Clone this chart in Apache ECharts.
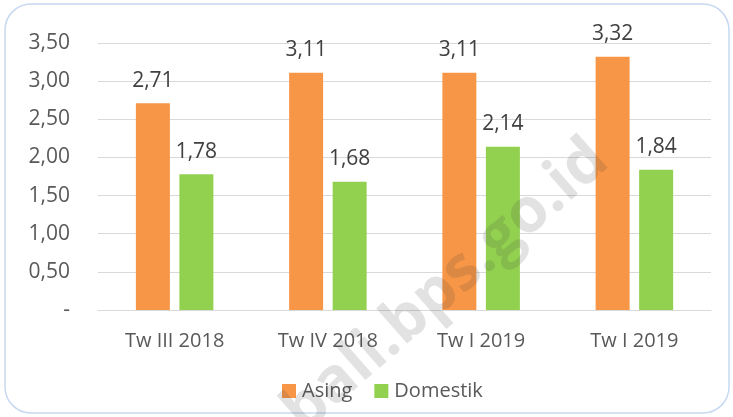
<!DOCTYPE html>
<html>
<head>
<meta charset="utf-8">
<script src="https://cdn.jsdelivr.net/npm/echarts@6/dist/echarts.min.js"></script>
<style>
  html, body { margin: 0; padding: 0; background: #fff; }
  #chart { width: 733px; height: 417px; }
</style>
</head>
<body>
<div id="chart"></div>
<script>
// quarters (last label repeats as in the source)
const categories = ['Tw III 2018', 'Tw IV 2018', 'Tw I 2019', 'Tw I 2019']
const asing = [2.71, 3.11, 3.11, 3.32]
const domestik = [1.78, 1.68, 2.14, 1.84]
const yTicks = [0, 0.5, 1, 1.5, 2, 2.5, 3, 3.5]

const fmt = v => (v === 0 ? '-' : v.toFixed(2).replace('.', ','))
const font = '"Open Sans", "Liberation Sans", sans-serif'

const chart = echarts.init(document.getElementById('chart'))

const barLabel = {
  show: true,
  position: 'top',
  distance: 12,
  fontSize: 21,
  color: '#404040',
  formatter: p => fmt(p.value)
}

chart.setOption({
  animation: false,
  textStyle: { fontFamily: font },
  grid: { left: 98, right: 22, top: 43, bottom: 107 },
  legend: {
    top: 376,
    left: 277,
    itemWidth: 14,
    itemHeight: 14,
    itemGap: 22,
    icon: 'rect',
    textStyle: { fontSize: 20, color: '#595959', fontFamily: font, padding: [0, 0, 0, 1] }
  },
  xAxis: {
    type: 'category',
    data: categories,
    axisTick: { show: false },
    axisLine: { lineStyle: { color: '#d9d9d9' } },
    axisLabel: { fontSize: 20, color: '#595959', margin: 21 }
  },
  yAxis: {
    type: 'value',
    min: yTicks[0],
    max: yTicks[yTicks.length - 1],
    interval: 0.5,
    axisLine: { show: false },
    axisTick: { show: false },
    splitLine: { lineStyle: { color: '#d9d9d9' } },
    axisLabel: { fontSize: 21, color: '#595959', margin: 28, formatter: fmt }
  },
  series: [
    {
      name: 'Asing',
      type: 'bar',
      data: asing,
      barWidth: 34,
      barGap: '28%',
      itemStyle: { color: '#f79646' },
      label: barLabel
    },
    {
      name: 'Domestik',
      type: 'bar',
      data: domestik,
      barWidth: 34,
      itemStyle: { color: '#92d050' },
      label: barLabel
    }
  ],
  graphic: [
    {
      type: 'rect',
      silent: true,
      shape: { x: 5, y: 4, width: 724, height: 409, r: 26 },
      style: { fill: 'none', stroke: '#c6d9f1', lineWidth: 1.5 }
    },
    {
      type: 'text',
      silent: true,
      z: 100,
      x: 446,
      y: 286,
      rotation: 0.72,
      style: {
        text: 'bali.bps.go.id',
        font: 'bold 62px ' + font,
        fill: 'rgba(60,60,60,0.15)',
        align: 'center',
        verticalAlign: 'middle'
      }
    }
  ]
})
</script>
</body>
</html>
